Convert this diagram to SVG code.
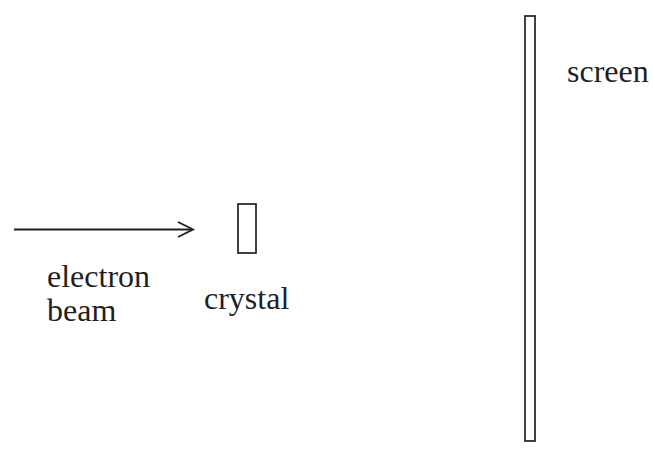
<svg xmlns="http://www.w3.org/2000/svg" width="653" height="450" viewBox="0 0 653 450">
<style>
.t{font-family:"Liberation Serif","Times New Roman",serif;font-size:32px;fill:#231f20}
.s{fill:#fff;stroke:#231f20;stroke-width:1.7}
.c{fill:none;stroke:#231f20;stroke-width:1.9}
</style>
<rect width="653" height="450" fill="#fff"/>
<g id="connectors">
<line class="c" x1="14" y1="229.5" x2="192" y2="229.5"/>
<polyline class="c" points="178,222 193,229.5 178,237"/>
</g>
<g id="crystal">
<rect class="s" x="238" y="204" width="18" height="49"/>
<text class="t" x="204" y="309">crystal</text>
</g>
<g id="screen">
<rect class="s" x="525" y="16" width="10" height="425"/>
<text class="t" x="567" y="82">screen</text>
</g>
<g id="beam-label">
<text class="t" x="47" y="287">electron</text>
<text class="t" x="47" y="321">beam</text>
</g>
</svg>
